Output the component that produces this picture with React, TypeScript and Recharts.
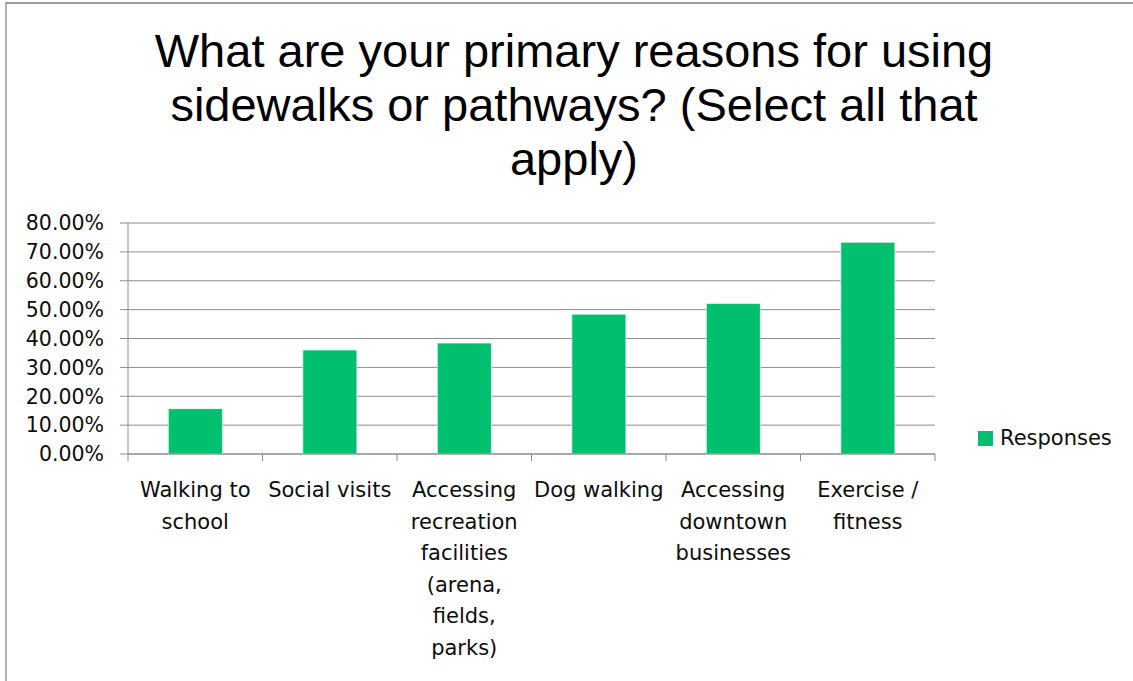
import React from 'react';
import { BarChart, Bar, XAxis, YAxis, CartesianGrid, Legend } from 'recharts';

// chart values
const titleLines = [
  'What are your primary reasons for using',
  'sidewalks or pathways? (Select all that',
  'apply)',
];
const categories = [
  'Walking to\nschool',
  'Social visits',
  'Accessing\nrecreation\nfacilities\n(arena,\nfields,\nparks)',
  'Dog walking',
  'Accessing\ndowntown\nbusinesses',
  'Exercise /\nfitness',
];
const responses = [15.7, 36.0, 38.4, 48.4, 52.1, 73.3];
const yTicks = [0, 10, 20, 30, 40, 50, 60, 70, 80];
const seriesName = 'Responses';

const GREEN = '#00BF6F';
const AXIS = '#8c8c8c';
const TEXT = '#0d0d0d';
const LABEL_FONT = '"DejaVu Sans", "Open Sans", sans-serif';

const data = categories.map((c, i) => ({ category: c, value: responses[i] }));

// category label split on line breaks, plus tick marks on band edges
const CategoryTick = (props: any) => {
  const { x, y, payload, index } = props;
  const half = payload && payload.offset ? payload.offset : 67.25;
  const lines = String(payload.value).split('\n');
  return (
    <g>
      <line x1={x - half} y1={y} x2={x - half} y2={y + 7} stroke={AXIS} strokeWidth={1} />
      {index === categories.length - 1 && (
        <line x1={x + half} y1={y} x2={x + half} y2={y + 7} stroke={AXIS} strokeWidth={1} />
      )}
      <text textAnchor="middle" fill={TEXT} fontFamily={LABEL_FONT} fontSize={21}>
        {lines.map((l, i) => (
          <tspan key={i} x={x} y={y + 43 + i * 31.5}>
            {l}
          </tspan>
        ))}
      </text>
    </g>
  );
};

const LegendContent = (props: any) => {
  const item = props.payload && props.payload[0];
  return (
    <div style={{ display: 'flex', alignItems: 'center', height: 24, fontFamily: LABEL_FONT, fontSize: 21, color: TEXT }}>
      <span style={{ display: 'inline-block', width: 15, height: 15, background: item ? item.color : GREEN, marginRight: 7 }} />
      <span style={{ whiteSpace: 'nowrap' }}>{item ? item.value : seriesName}</span>
    </div>
  );
};

export default function App() {
  return (
    <div style={{ position: 'fixed', left: 0, top: 0, width: 1133, height: 681, overflow: 'hidden', background: '#fff' }}>
      <div
        style={{
          position: 'absolute',
          left: 5,
          top: 2,
          width: 1200,
          height: 800,
          borderLeft: '2px solid #b3b3b3',
          borderTop: '2px solid #9a9a9a',
        }}
      />
      <div
        style={{
          position: 'absolute',
          left: 7,
          top: 24,
          width: 1134,
          textAlign: 'center',
          fontFamily: '"Liberation Sans", Arial, sans-serif',
          fontSize: 47,
          lineHeight: '54px',
          color: '#000',
        }}
      >
        {titleLines.map((t) => (
          <div key={t} style={{ whiteSpace: 'nowrap' }}>{t}</div>
        ))}
      </div>
      <div style={{ position: 'absolute', left: 0, top: 0 }}>
        <BarChart
          width={1133}
          height={681}
          data={data}
          margin={{ top: 223, right: 48, bottom: 0, left: 0 }}
          barCategoryGap="30%"
        >
          <CartesianGrid vertical={false} stroke={AXIS} strokeWidth={1} />
          <XAxis
            dataKey="category"
            interval={0}
            height={227}
            stroke={AXIS}
            tickLine={false}
            tickSize={0}
            tickMargin={0}
            tick={<CategoryTick />}
          />
          <YAxis
            domain={[0, 80]}
            ticks={yTicks}
            width={128}
            stroke={AXIS}
            tickSize={8}
            tickMargin={16}
            tick={{ fill: TEXT, fontFamily: LABEL_FONT, fontSize: 20.5 }}
            tickFormatter={(v: number) => v.toFixed(2) + '%'}
          />
          <Legend
            layout="vertical"
            align="right"
            verticalAlign="middle"
            content={<LegendContent />}
            wrapperStyle={{ left: 978, top: 426, width: 150, height: 24 }}
          />
          <Bar
            dataKey="value"
            name={seriesName}
            fill={GREEN}
            stroke="#ffffff"
            strokeWidth={0.6}
            isAnimationActive={false}
          />
        </BarChart>
      </div>
    </div>
  );
}
